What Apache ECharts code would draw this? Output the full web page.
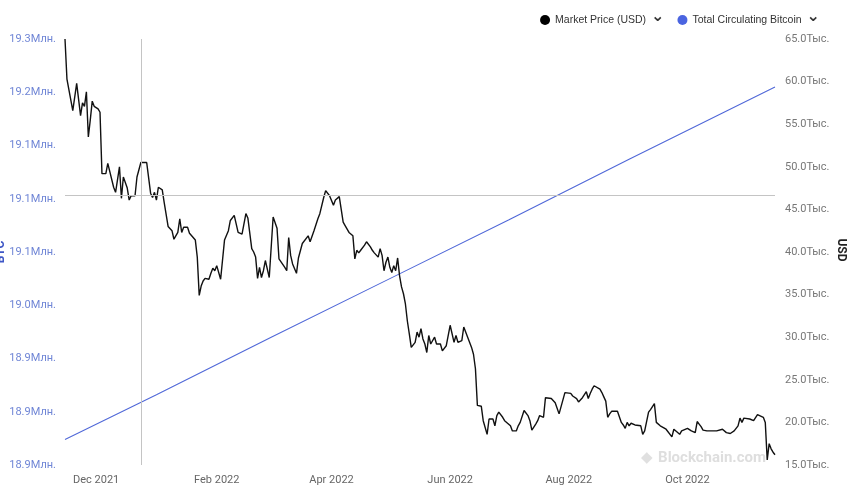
<!DOCTYPE html>
<html>
<head>
<meta charset="utf-8">
<script src="https://cdn.jsdelivr.net/npm/echarts@6/dist/echarts.min.js"></script>
<style>
html,body{margin:0;padding:0;background:#fff;}
#chart{width:850px;height:490px;}
</style>
</head>
<body>
<div id="chart"></div>
<script>
// Market price (thousand USD)
const priceDates = [
'2021-11-15','2021-11-16','2021-11-17','2021-11-19','2021-11-21','2021-11-23','2021-11-24','2021-11-25','2021-11-26','2021-11-27','2021-11-28','2021-11-29','2021-11-30',
'2021-12-01','2021-12-02','2021-12-03','2021-12-04','2021-12-06','2021-12-07','2021-12-08','2021-12-10','2021-12-11','2021-12-13','2021-12-14','2021-12-15','2021-12-17','2021-12-18','2021-12-19','2021-12-21','2021-12-22','2021-12-23','2021-12-24','2021-12-25','2021-12-27','2021-12-28','2021-12-29','2021-12-30','2021-12-31',
'2022-01-01','2022-01-02','2022-01-04','2022-01-05','2022-01-07','2022-01-09','2022-01-10','2022-01-11','2022-01-12','2022-01-13','2022-01-14','2022-01-15','2022-01-17','2022-01-18','2022-01-19','2022-01-21','2022-01-22','2022-01-23','2022-01-24','2022-01-25','2022-01-26','2022-01-28','2022-01-29','2022-01-30','2022-01-31',
'2022-02-01','2022-02-02','2022-02-03','2022-02-04','2022-02-05','2022-02-06','2022-02-07','2022-02-08','2022-02-10','2022-02-11','2022-02-12','2022-02-14','2022-02-15','2022-02-16','2022-02-17','2022-02-19','2022-02-20','2022-02-21','2022-02-22','2022-02-23','2022-02-24','2022-02-25','2022-02-26','2022-02-27','2022-02-28',
'2022-03-02','2022-03-03','2022-03-04','2022-03-05','2022-03-06','2022-03-08','2022-03-09','2022-03-10','2022-03-11','2022-03-12','2022-03-14','2022-03-15','2022-03-17','2022-03-18','2022-03-20','2022-03-21','2022-03-22','2022-03-23','2022-03-25','2022-03-26','2022-03-28','2022-03-29','2022-03-30','2022-03-31',
'2022-04-02','2022-04-03','2022-04-04','2022-04-05','2022-04-06','2022-04-07','2022-04-08','2022-04-10','2022-04-11','2022-04-12','2022-04-13','2022-04-14','2022-04-15','2022-04-16','2022-04-17','2022-04-18','2022-04-19','2022-04-20','2022-04-21','2022-04-22','2022-04-23','2022-04-25','2022-04-26','2022-04-27','2022-04-28','2022-04-29','2022-04-30',
'2022-05-01','2022-05-02','2022-05-03','2022-05-04','2022-05-05','2022-05-06','2022-05-07','2022-05-08','2022-05-09','2022-05-10','2022-05-11','2022-05-12','2022-05-13','2022-05-14','2022-05-15','2022-05-16','2022-05-17','2022-05-18','2022-05-19','2022-05-20','2022-05-21','2022-05-22','2022-05-23','2022-05-24','2022-05-25','2022-05-26','2022-05-27','2022-05-28','2022-05-30','2022-05-31',
'2022-06-01','2022-06-02','2022-06-03','2022-06-04','2022-06-05','2022-06-06','2022-06-07','2022-06-08','2022-06-09','2022-06-10','2022-06-11','2022-06-12','2022-06-13','2022-06-14','2022-06-15','2022-06-16','2022-06-17','2022-06-18','2022-06-19','2022-06-20','2022-06-21','2022-06-22','2022-06-23','2022-06-24','2022-06-25','2022-06-26','2022-06-27','2022-06-28','2022-06-29','2022-06-30',
'2022-07-02','2022-07-03','2022-07-05','2022-07-06','2022-07-07','2022-07-08','2022-07-09','2022-07-10','2022-07-11','2022-07-12','2022-07-13','2022-07-15','2022-07-16','2022-07-17','2022-07-18','2022-07-19','2022-07-20','2022-07-21','2022-07-23','2022-07-25','2022-07-26','2022-07-27','2022-07-28','2022-07-30','2022-07-31',
'2022-08-02','2022-08-03','2022-08-05','2022-08-06','2022-08-08','2022-08-09','2022-08-10','2022-08-11','2022-08-12','2022-08-13','2022-08-14','2022-08-15','2022-08-17','2022-08-18','2022-08-19','2022-08-20','2022-08-21','2022-08-22','2022-08-23','2022-08-24','2022-08-26','2022-08-27','2022-08-28','2022-08-29','2022-08-30','2022-08-31',
'2022-09-01','2022-09-02','2022-09-04','2022-09-05','2022-09-07','2022-09-08','2022-09-09','2022-09-10','2022-09-11','2022-09-12','2022-09-13','2022-09-14','2022-09-15','2022-09-16','2022-09-17','2022-09-18','2022-09-20','2022-09-21','2022-09-23','2022-09-24','2022-09-25','2022-09-27','2022-09-28','2022-09-29',
'2022-10-01','2022-10-02','2022-10-03','2022-10-05','2022-10-06','2022-10-07','2022-10-08','2022-10-09','2022-10-11','2022-10-12','2022-10-14','2022-10-15','2022-10-16','2022-10-17','2022-10-19','2022-10-20','2022-10-21','2022-10-23','2022-10-25','2022-10-26','2022-10-27','2022-10-28','2022-10-29','2022-10-30','2022-10-31',
'2022-11-02','2022-11-04','2022-11-05','2022-11-06','2022-11-07','2022-11-09','2022-11-10','2022-11-11','2022-11-12','2022-11-13','2022-11-14','2022-11-15'
];
const priceValues = [
65.0,60.3,60.3,56.6,59.8,56.0,57.5,57.1,58.8,53.5,55.5,57.7,57.1,
57.0,56.8,56.4,49.2,49.2,50.4,50.3,47.6,47.0,50.0,46.3,48.8,47.5,46.1,46.6,46.6,48.8,48.6,50.5,50.7,50.5,50.6,46.9,46.4,47.0,
46.1,47.6,47.3,45.8,43.0,42.5,41.5,41.3,42.3,43.9,42.3,42.9,42.9,42.2,42.2,41.4,39.4,34.9,36.0,36.6,36.9,36.8,37.5,38.1,37.8,
38.4,38.5,36.8,36.8,41.4,41.4,42.5,43.7,44.3,43.3,42.3,42.1,42.3,44.5,44.0,40.4,40.0,39.4,36.9,38.2,37.0,37.8,39.0,38.9,37.0,
44.1,44.0,42.8,39.2,39.1,38.2,37.8,41.7,39.6,38.6,37.5,39.3,41.0,40.8,41.9,41.2,41.0,42.5,43.9,44.5,46.4,47.2,47.3,46.6,
45.5,46.1,45.9,46.5,46.3,43.5,43.1,42.3,42.4,41.9,39.2,40.2,39.9,40.2,40.0,40.8,41.2,41.4,40.6,40.2,39.9,39.4,40.4,39.6,37.8,38.8,39.4,
38.2,37.6,38.4,37.8,39.3,37.2,35.9,35.1,33.9,31.9,30.4,28.8,28.8,29.4,30.6,30.0,31.0,29.8,29.2,28.2,30.2,29.2,29.4,30.0,29.2,29.4,29.2,28.4,29.0,29.2,
31.4,31.6,29.4,30.2,29.4,29.6,29.6,31.2,31.0,30.0,29.8,28.8,28.0,26.3,22.0,22.1,21.9,20.2,20.2,18.6,20.4,20.4,20.4,19.6,20.8,21.2,21.0,20.6,20.2,20.0,
19.6,19.0,19.0,19.6,20.0,20.2,21.4,21.4,20.8,20.2,19.1,19.8,20.2,20.8,20.8,20.6,22.9,23.1,22.8,22.3,22.2,21.0,21.0,23.5,23.6,
23.4,23.1,22.8,22.4,22.9,22.7,23.6,22.8,23.4,23.9,24.3,24.2,23.9,23.5,23.0,22.5,20.6,21.0,21.3,21.1,21.3,21.3,20.0,19.7,19.3,20.0,
19.6,19.9,19.7,19.7,19.6,18.6,19.0,19.2,21.2,21.5,21.7,22.2,20.0,19.8,19.6,19.8,19.2,19.0,18.3,19.2,19.0,18.6,19.0,18.9,
19.3,19.2,19.0,18.8,20.1,19.8,19.5,19.1,19.0,18.8,19.0,18.8,19.0,18.8,19.2,19.1,18.8,18.7,19.0,19.1,19.6,20.5,20.0,20.5,20.6,
20.4,20.2,20.0,20.9,21.0,20.6,20.0,15.6,17.5,16.9,16.5,16.2
];
// Total circulating bitcoin (BTC)
const supplyDates = ['2021-11-15','2022-01-01','2022-03-01','2022-05-01','2022-07-01','2022-09-01','2022-11-15'];
const supplyValues = [18874000,18916000,18970000,19025000,19080000,19137000,19205000];
// X axis tick labels
const tickDates = ['2021-12-01','2022-02-01','2022-04-01','2022-06-01','2022-08-01','2022-10-01'];
const xStart = '2021-11-15', xEnd = '2022-11-15';
// Crosshair (hover pointer) in the picture
const crossDate = '2021-12-24';
const crossPrice = 46650;

const monthNames = ['Jan','Feb','Mar','Apr','May','Jun','Jul','Aug','Sep','Oct','Nov','Dec'];
const ts = s => new Date(s + 'T00:00:00Z').getTime();
const priceData = priceDates.map((d, i) => [ts(d), priceValues[i] * 1000]);
const supplyData = supplyDates.map((d, i) => [ts(d), supplyValues[i]]);

const chart = echarts.init(document.getElementById('chart'), null, {renderer: 'canvas'});
chart.setOption({
  animation: false,
  backgroundColor: '#fff',
  textStyle: {fontFamily: 'Roboto, sans-serif'},
  grid: {left: 65, right: 75, top: 39, bottom: 25, containLabel: false, outerBoundsMode: 'none'},
  legend: {
    top: 4, right: 25,
    icon: 'circle', itemWidth: 10, itemHeight: 10, itemGap: 13,
    data: ['Market Price (USD)', 'Total Circulating Bitcoin'],
    formatter: name => name + '{c|⌄}',
    textStyle: {
      color: '#333', fontSize: 10.5, fontFamily: 'Liberation Sans, sans-serif',
      rich: {c: {fontFamily: 'DejaVu Sans', fontSize: 16, fontWeight: 'bold', color: '#333', padding: [0, 0, 6, 5]}}
    }
  },
  xAxis: {
    type: 'value',
    min: ts(xStart), max: ts(xEnd),
    axisLine: {show: false}, axisTick: {show: false}, splitLine: {show: false},
    axisLabel: {
      customValues: tickDates.map(ts),
      color: '#666', fontSize: 11, margin: 10,
      formatter: v => { const d = new Date(v); return monthNames[d.getUTCMonth()] + ' ' + d.getUTCFullYear(); }
    }
  },
  yAxis: [
    {
      type: 'value', position: 'left',
      min: 18850000, max: 19250000, interval: 50000,
      axisLine: {show: false}, axisTick: {show: false}, splitLine: {show: false},
      axisLabel: {color: '#7086d6', fontSize: 11, margin: 9, formatter: v => (v / 1e6).toFixed(1) + 'Млн.'}
    },
    {
      type: 'value', position: 'right',
      min: 15000, max: 65000, interval: 5000,
      axisLine: {show: false}, axisTick: {show: false}, splitLine: {show: false},
      axisLabel: {color: '#777', fontSize: 11, margin: 10, formatter: v => (v / 1000).toFixed(1) + 'Тыс.'}
    }
  ],
  graphic: [
    {
      type: 'text', x: 1, y: 252, rotation: Math.PI / 2, silent: true,
      style: {text: 'BTC', fill: '#3f57c6', font: 'bold 12px Roboto', align: 'center', verticalAlign: 'middle'}
    },
    {
      type: 'text', x: 841, y: 250, rotation: -Math.PI / 2, silent: true,
      style: {text: 'USD', fill: '#222', font: 'bold 12px Roboto', align: 'center', verticalAlign: 'middle'}
    },
    {
      type: 'group', right: 84, bottom: 24, z: 0, silent: true,
      children: [
        {type: 'text', left: 0, top: -1, style: {text: '◆', fill: '#e0e0e0', font: '15px DejaVu Sans'}},
        {type: 'text', left: 17, top: -1, style: {text: 'Blockchain.com', fill: '#dedede', font: 'bold 15px Roboto'}}
      ]
    }
  ],
  series: [
    {
      name: 'Market Price (USD)', type: 'line', yAxisIndex: 1,
      data: priceData, showSymbol: false, symbol: 'none',
      itemStyle: {color: '#000'},
      lineStyle: {color: '#111', width: 1.4},
      z: 3,
      markLine: {
        silent: true, symbol: 'none', label: {show: false},
        lineStyle: {color: '#c4c4c4', type: 'solid', width: 1},
        data: [{xAxis: ts(crossDate)}, {yAxis: crossPrice}]
      }
    },
    {
      name: 'Total Circulating Bitcoin', type: 'line', yAxisIndex: 0,
      data: supplyData, showSymbol: false, symbol: 'none',
      itemStyle: {color: '#4a64e0'},
      lineStyle: {color: '#5068d8', width: 1.1},
      z: 2
    }
  ]
});
</script>
</body>
</html>
